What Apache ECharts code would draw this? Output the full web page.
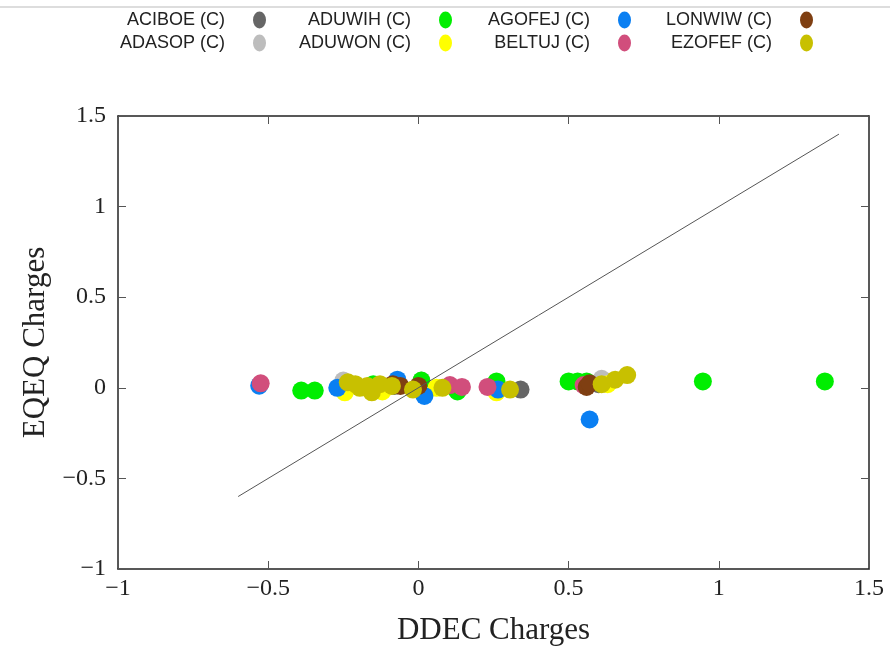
<!DOCTYPE html>
<html>
<head>
<meta charset="utf-8">
<script src="https://cdn.jsdelivr.net/npm/echarts@6/dist/echarts.min.js"></script>
<style>
  html, body { margin: 0; padding: 0; background: #fff; }
  #chart { width: 890px; height: 651px; }
</style>
</head>
<body>
<div id="chart"></div>
<script>
  // series values, [DDEC, EQEQ] pairs
  var aciboe = [[-0.08, 0.01], [0.6, 0.02], [0.34, -0.01]];
  var adasop = [[-0.25, 0.04], [0.01, 0.04], [0.61, 0.05]];
  var aduwih = [[-0.39, -0.015], [-0.345, -0.015], [-0.15, 0.02], [0.01, 0.04], [0.13, -0.02],
    [0.26, 0.035], [0.5, 0.035], [0.53, 0.035], [0.56, 0.035], [0.947, 0.035], [1.353, 0.035]];
  var aduwon = [[-0.245, -0.025], [-0.12, -0.02], [0.06, 0.0], [0.26, -0.025], [0.63, 0.02]];
  var agofej = [[-0.53, 0.012], [-0.27, 0.0], [-0.07, 0.045], [0.02, -0.045], [0.265, -0.01], [0.57, -0.175]];
  var beltuj = [[-0.525, 0.025], [0.105, 0.015], [0.145, 0.005], [0.23, 0.005], [0.55, 0.015]];
  var lonwiw = [[-0.085, 0.02], [-0.06, 0.01], [0.0, 0.01], [0.56, 0.005], [0.57, 0.025]];
  var ezofef = [[-0.235, 0.03], [-0.21, 0.02], [-0.195, 0.0], [-0.17, 0.01], [-0.155, -0.025],
    [-0.128, 0.02], [-0.088, 0.01], [-0.018, -0.01], [0.08, 0.0], [0.305, -0.01],
    [0.61, 0.02], [0.655, 0.045], [0.695, 0.07]];
  var diagonal = [[-0.6, -0.6], [1.4, 1.4]];

  var names = ['ACIBOE (C)', 'ADASOP (C)', 'ADUWIH (C)', 'ADUWON (C)', 'AGOFEJ (C)', 'BELTUJ (C)', 'LONWIW (C)', 'EZOFEF (C)'];
  var values = [aciboe, adasop, aduwih, aduwon, agofej, beltuj, lonwiw, ezofef];
  var colors = ['#666666', '#bdbdbd', '#00ee00', '#ffff00', '#0a7ff2', '#d14e7c', '#7f3f12', '#c8c000'];
  var xTicks = { min: -1, max: 1.5, interval: 0.5 };
  var yTicks = { min: -1, max: 1.5, interval: 0.5 };

  // legend is filled column by column, two rows
  var legendRight = [624, 438, 259, 77];
  var legendTop = [11, 34];

  var serif = '"Liberation Serif", "DejaVu Serif", serif';
  var minus = function (v) { return String(v).replace('-', '\u2212'); };

  var series = names.map(function (n, i) {
    return {
      name: n,
      type: 'scatter',
      symbolSize: 18,
      data: values[i],
      itemStyle: { color: colors[i], opacity: 1 },
      z: 2 + i
    };
  });
  series.push({
    name: 'diag',
    type: 'line',
    data: diagonal,
    showSymbol: false,
    silent: true,
    lineStyle: { color: '#555', width: 1 },
    z: 20
  });

  var legends = names.map(function (n, i) {
    return {
      data: [n],
      orient: 'horizontal',
      align: 'right',
      padding: 0,
      right: legendRight[Math.floor(i / 2)],
      top: legendTop[i % 2],
      itemWidth: 13,
      itemHeight: 17,
      icon: 'path://M50,0A50,50,0,1,1,50,100A50,50,0,1,1,50,0Z',
      symbolKeepAspect: false,
      textStyle: {
        fontFamily: '"Liberation Sans", sans-serif',
        fontSize: 18,
        color: '#222',
        padding: [0, 23, 0, 0]
      }
    };
  });

  var axisLineStyle = { color: '#222', width: 1.5 };

  var myChart = echarts.init(document.getElementById('chart'));
  myChart.setOption({
    animation: false,
    graphic: [{
      type: 'line',
      shape: { x1: 0, y1: 7, x2: 890, y2: 7 },
      style: { stroke: '#dddddd', lineWidth: 2 }
    }],
    legend: legends,
    grid: { left: 118, right: 21, top: 116, bottom: 81 },
    xAxis: [{
      type: 'value',
      min: xTicks.min, max: xTicks.max, interval: xTicks.interval,
      name: 'DDEC Charges',
      nameLocation: 'middle',
      nameGap: 46,
      nameTextStyle: { fontFamily: serif, fontSize: 31, color: '#222' },
      axisLine: { show: true, onZero: false, lineStyle: axisLineStyle },
      axisTick: { show: true, inside: true, length: 8, lineStyle: { color: '#555' } },
      axisLabel: { fontFamily: serif, fontSize: 24, color: '#222', margin: 8, formatter: minus },
      splitLine: { show: false }
    }, {
      type: 'value',
      position: 'top',
      min: xTicks.min, max: xTicks.max, interval: xTicks.interval,
      axisLine: { show: true, onZero: false, lineStyle: axisLineStyle },
      axisTick: { show: true, inside: true, length: 8, lineStyle: { color: '#555' } },
      axisLabel: { show: false },
      splitLine: { show: false }
    }],
    yAxis: [{
      type: 'value',
      min: yTicks.min, max: yTicks.max, interval: yTicks.interval,
      name: 'EQEQ Charges',
      nameLocation: 'middle',
      nameGap: 67,
      nameTextStyle: { fontFamily: serif, fontSize: 31, color: '#222' },
      axisLine: { show: true, onZero: false, lineStyle: axisLineStyle },
      axisTick: { show: true, inside: true, length: 8, lineStyle: { color: '#555' } },
      axisLabel: { fontFamily: serif, fontSize: 24, color: '#222', margin: 12, formatter: minus },
      splitLine: { show: false }
    }, {
      type: 'value',
      position: 'right',
      min: yTicks.min, max: yTicks.max, interval: yTicks.interval,
      axisLine: { show: true, onZero: false, lineStyle: axisLineStyle },
      axisTick: { show: true, inside: true, length: 8, lineStyle: { color: '#555' } },
      axisLabel: { show: false },
      splitLine: { show: false }
    }],
    series: series
  });
</script>
</body>
</html>
